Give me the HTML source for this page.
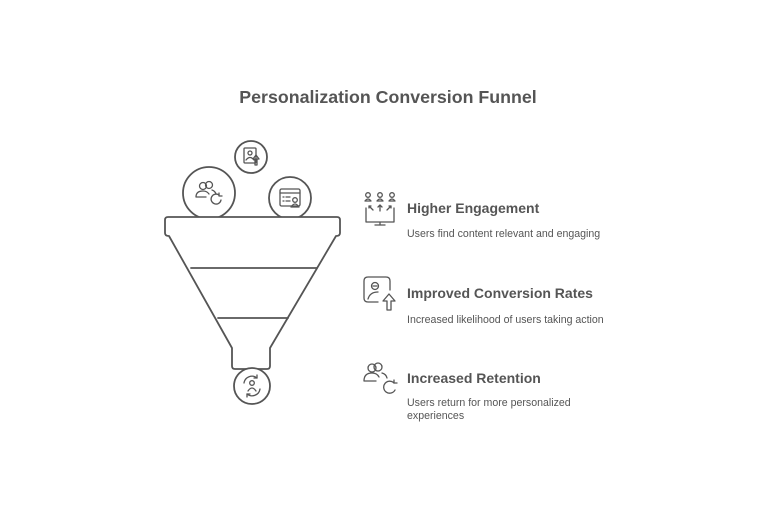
<!DOCTYPE html>
<html><head><meta charset="utf-8"><style>
html,body{margin:0;padding:0;background:#fff;}
svg{display:block;}
text{font-family:"Liberation Sans",sans-serif;fill:#555;}
</style></head><body>
<svg width="760" height="506" viewBox="0 0 760 506" xmlns="http://www.w3.org/2000/svg">
<text x="388" y="103" text-anchor="middle" font-size="17.8" font-weight="bold">Personalization Conversion Funnel</text>
<g fill="none" stroke="#555" stroke-width="1.8" stroke-linecap="round" stroke-linejoin="round">
<circle cx="251" cy="157" r="16" fill="#fff"/>
<circle cx="209" cy="193" r="26" fill="#fff"/>
<circle cx="290" cy="198" r="21" fill="#fff"/>
<path d="M168 217 L337 217 Q340 217 340 220 L340 233 Q340 236 336 236 L270 348 L270 366 Q270 369 267 369 L235 369 Q232 369 232 366 L232 348 L169 236 Q165 236 165 233 L165 220 Q165 217 168 217 Z" fill="#fff"/>
<line x1="191" y1="268" x2="317" y2="268"/>
<line x1="218" y1="318" x2="288" y2="318"/>
<circle cx="252" cy="386" r="18" fill="#fff"/>
</g>
<g fill="none" stroke="#555" stroke-width="1.3" stroke-linecap="round" stroke-linejoin="round">
<rect x="244" y="148" width="12" height="15" rx="1"/>
<circle cx="250" cy="153" r="2"/><path d="M246 160 q4 -5 8 0"/>
<path d="M255 165 v-6 h-2 l3 -4 l3 4 h-2 v6 z"/>
<circle cx="203" cy="186" r="3.5"/><path d="M196 197 q0 -6 7 -6 q4 0 6 3 M196 197 h10"/>
<circle cx="209" cy="185" r="3.5"/><path d="M212 190 q3 1 4 4"/>
<path d="M221 200 a5 5 0 1 1 -2 -5"/><path d="M219 193 v3 h3"/>
<rect x="280" y="189" width="20" height="17" rx="1.5"/><line x1="280" y1="193" x2="300" y2="193"/>
<path d="M283 197 h1 M286 197 h4 M283 201 h1 M286 201 h4"/>
<circle cx="295" cy="200" r="2.3"/><path d="M291 207 q4 -6 8 0 z"/>
<path d="M244 383 a8 8 0 0 1 13 -5 M260 389 a8 8 0 0 1 -13 5"/>
<path d="M257 375 v3 h-3 M247 397 v-3 h3"/>
<circle cx="252" cy="383" r="2.3"/><path d="M248 391 q4 -6 8 0"/>
<circle cx="368" cy="195" r="2.3"/><path d="M365 201 q3 -4 6 0 z"/>
<circle cx="380" cy="195" r="2.3"/><path d="M377 201 q3 -4 6 0 z"/>
<circle cx="392" cy="195" r="2.3"/><path d="M389 201 q3 -4 6 0 z"/>
<path d="M373 210 l-4 -4 M369 206 h2 M369 206 v2 M380 211 v-6 M378 207 l2 -2 l2 2 M387 210 l4 -4 M391 206 h-2 M391 206 v2"/>
<path d="M366 208 v14 h28 v-14 M380 222 v3 M375 225 h10"/>
<path d="M378 302 h-10 q-4 0 -4 -4 v-17 q0 -4 4 -4 h18 q4 0 4 4 v9"/>
<circle cx="375" cy="286" r="3.5"/><path d="M373 286 h4"/>
<path d="M368 299 q2 -7 10 -7"/>
<path d="M387 310 v-9 h-4 l6 -7 l6 7 h-4 v9 z"/>
<circle cx="372" cy="368" r="4"/><path d="M364 381 q0 -8 8 -8 q5 0 7 4 M364 381 h12"/>
<circle cx="378" cy="367" r="4"/><path d="M382 373 q4 1 5 5"/>
<path d="M395 390 a6 6 0 1 1 -1 -7"/><path d="M394 380 v3 h3"/>
</g>
<text x="407" y="213" font-size="14" font-weight="bold">Higher Engagement</text>
<text x="407" y="237" font-size="10.6">Users find content relevant and engaging</text>
<text x="407" y="298" font-size="14" font-weight="bold">Improved Conversion Rates</text>
<text x="407" y="323" font-size="10.6">Increased likelihood of users taking action</text>
<text x="407" y="383" font-size="14" font-weight="bold">Increased Retention</text>
<text x="407" y="406" font-size="10.6">Users return for more personalized</text>
<text x="407" y="419" font-size="10.6">experiences</text>
</svg>
</body></html>
